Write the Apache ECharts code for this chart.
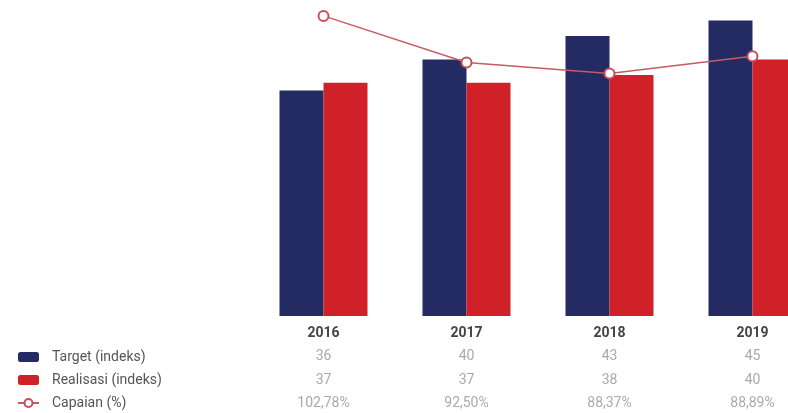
<!DOCTYPE html>
<html>
<head>
<meta charset="utf-8">
<script src="https://cdn.jsdelivr.net/npm/echarts@6/dist/echarts.min.js"></script>
<style>
  html, body { margin: 0; padding: 0; background: #fff; overflow: hidden; }
  #chart { width: 824px; height: 413px; }
</style>
</head>
<body>
<div id="chart"></div>
<script>
var years = ["2016", "2017", "2018", "2019"];
var target = [36, 40, 43, 45];
var realisasi = [37, 37, 38, 40];
var capaianLabel = ["102,78%", "92,50%", "88,37%", "88,89%"];
// line heights as drawn in the picture (on the index scale)
var capaianLine = [45.6, 39.6, 38.2, 40.4];

var chart = echarts.init(document.getElementById("chart"));

// the last category runs past the right edge of the picture
var option = {
  animation: false,
  textStyle: { fontFamily: "Roboto" },
  legend: {
    orient: "vertical",
    left: 12,
    top: 345,
    height: 80,
    itemWidth: 21,
    itemHeight: 10,
    itemGap: 9,
    textStyle: { color: "#555", fontSize: 14, lineHeight: 14, padding: [0, 0, 0, 8] },
    data: ["Target (indeks)", "Realisasi (indeks)", "Capaian (%)"]
  },
  grid: { left: 252, right: 0, top: 5, height: 311 },
  xAxis: {
    type: "category",
    data: years,
    axisLine: { show: false },
    axisTick: { show: false },
    axisLabel: {
      margin: 5,
      interval: 0,
      formatter: function (v, i) {
        return "{y|" + v + "}\n{v|" + target[i] + "}\n{v|" + realisasi[i] + "}\n{v|" + capaianLabel[i] + "}";
      },
      rich: {
        y: { fontSize: 14, fontWeight: "bold", color: "#444", lineHeight: 24 },
        v: { fontSize: 14, color: "#aaa", lineHeight: 23.5 }
      }
    }
  },
  yAxis: {
    type: "value",
    min: 7,
    max: 47,
    show: false,
    splitLine: { show: false }
  },
  series: [
    {
      name: "Target (indeks)",
      type: "bar",
      barWidth: 44,
      barGap: "0%",
      itemStyle: { color: "#242a62" },
      data: target
    },
    {
      name: "Realisasi (indeks)",
      type: "bar",
      barWidth: 44,
      itemStyle: { color: "#d02028" },
      data: realisasi
    },
    {
      name: "Capaian (%)",
      type: "line",
      symbol: "circle",
      symbolSize: 10,
      lineStyle: { color: "#c75a63", width: 1.5 },
      itemStyle: { color: "#fff", borderColor: "#c4505a", borderWidth: 2 },
      data: capaianLine
    }
  ]
};

chart.setOption(option);
</script>
</body>
</html>
